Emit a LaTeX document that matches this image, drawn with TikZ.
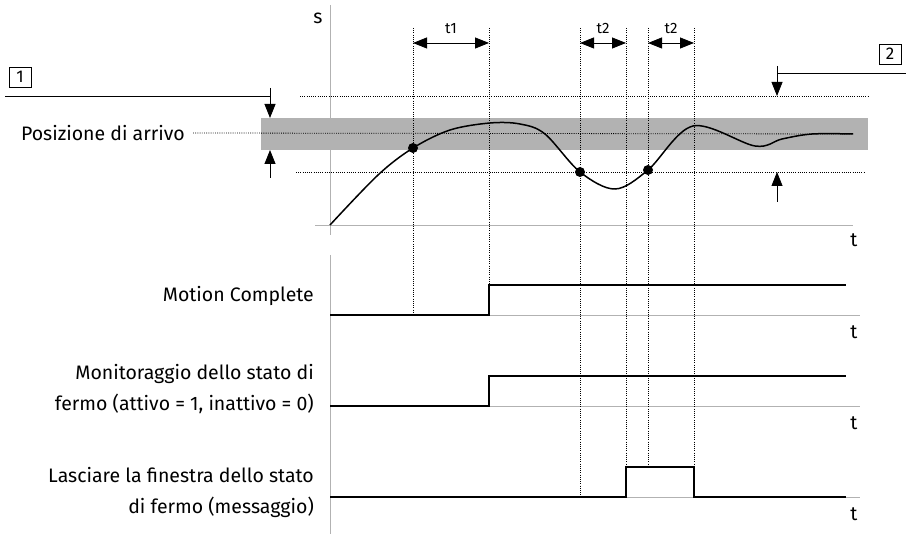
\documentclass[tikz,border=0pt]{standalone}
\usepackage{fontspec}
\setmainfont{Fira Sans}
\usetikzlibrary{arrows.meta,positioning}

\tikzset{
  axis/.style={draw=black!30,line width=0.8pt},
  guide/.style={line width=0.8pt,dash pattern=on 0.9pt off 1.3pt},
  signal/.style={line width=1.6pt},
  thin/.style={line width=0.8pt},
  tip/.style={-{Triangle[length=14pt,width=11pt]},line width=0.8pt},
  span/.style={{Triangle[length=14pt,width=11pt]}-{Triangle[length=14pt,width=11pt]},line width=0.8pt},
  lbl/.style={font=\fontsize{19.5}{31}\selectfont,align=right,inner sep=0pt},
  small/.style={font=\fontsize{15}{15}\selectfont,inner sep=0pt},
  callout/.style={draw,line width=0.7pt,minimum width=22pt,minimum height=20pt,inner sep=0pt,font=\fontsize{17}{17}\selectfont},
}

\begin{document}
\begin{tikzpicture}[x=1pt,y=-1pt]
	\useasboundingbox (0,0) rectangle (909,534);
	% window around the target
	\fill[black!30] (261,118) rectangle (868,150);
	\draw[axis] (330,5) -- (330,235);
	\draw[axis] (315,225) -- (853,225);
	\draw[axis] (330,255) -- (330,534);
	\foreach \y in {315,406,497}
		\draw[axis] (330,\y) -- (860,\y);
	\node[font=\fontsize{19.5}{19.5}\selectfont] (s) at (318,18) {s};
	\foreach \y/\n in {240/t0,332/t1,423/t2,514/t3}
		\node[font=\fontsize{19.5}{19.5}\selectfont] (\n) at (854,\y) {t};

	% window limits
	\node[lbl,anchor=east] (target) at (185,133) {Posizione di arrivo};
	\draw[guide] (target.east) ++(8,0) -- (853,134);
	\draw[guide] (300,96) -- (868,96);
	\draw[guide] (296,172) -- (865,172);

	% time marks
	\foreach \x/\b in {413/313,489/285,580/497,626/467,648/467,694/467}
		\draw[guide] (\x,28) -- (\x,\b);
	\draw[span] (413,43) -- node[small,above=9pt] {t1} (489,43);
	\draw[span] (580,43) -- node[small,above=9pt] {t2} (626,43);
	\draw[span] (648,43) -- node[small,above=9pt] {t2} (694,43);

	% position
	\draw[line width=1.5pt] plot[smooth,tension=0.55] coordinates {
		(330,225) (378,175) (413,148) (450,130) (490,123) (520,124)
		(545,134) (580,172) (615,189) (648,170)
		(693,126) (755,146) (782,139) (812,134) (853,134)};
	\foreach \p in {(413,148),(580,172),(648,170)}
		\fill \p circle (5pt);

	% callouts
	\node[callout] (c1) at (20,77) {1};
	\node[callout] (c2) at (890,54) {2};
	\draw[thin] (5,96) -- (270,96);
	\draw[tip] (270,88) -- (270,118);
	\draw[tip] (270,178) -- (270,150);
	\draw[thin] (777,73) -- (906,73);
	\draw[tip] (777,66) -- (777,96);
	\draw[tip] (777,202) -- (777,172);

	% signals
	\node[lbl,anchor=east] (mc) at (314,296) {Motion Complete};
	\node[lbl,anchor=east] (mon) at (314,389) {Monitoraggio dello stato di\\fermo (attivo = 1, inattivo = 0)};
	\node[lbl,anchor=east] (leave) at (314,492) {Lasciare la finestra dello stato\\di fermo (messaggio)};
	\draw[signal] (330,315) -- (489,315) -- (489,285) -- (846,285);
	\draw[signal] (330,406) -- (489,406) -- (489,376) -- (846,376);
	\draw[signal] (330,497) -- (626,497) -- (626,467) -- (694,467) -- (694,497) -- (846,497);
\end{tikzpicture}
\end{document}
